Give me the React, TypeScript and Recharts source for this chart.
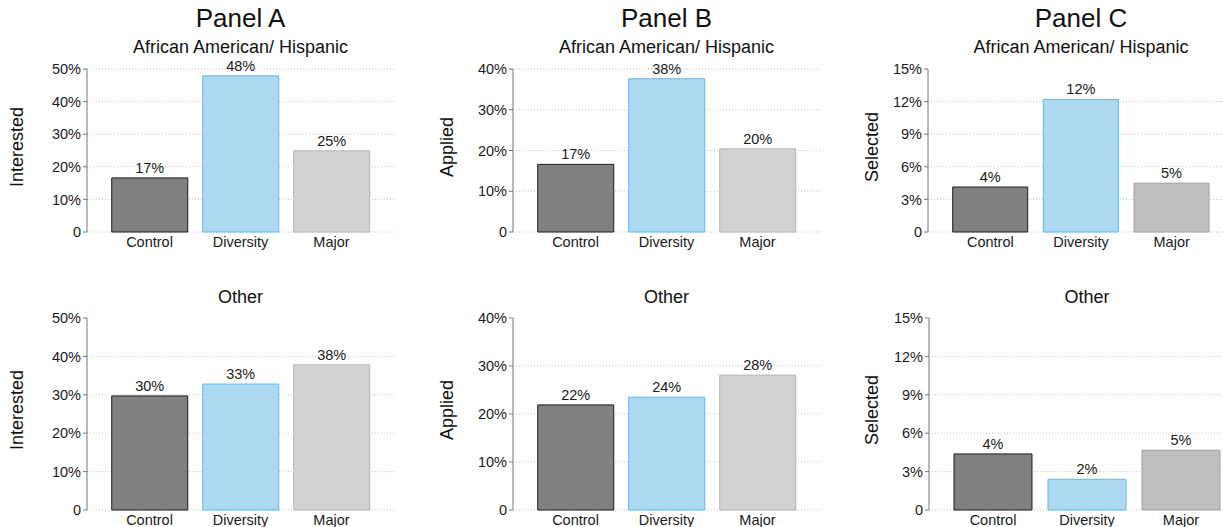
import React from 'react';
import { BarChart, Bar, XAxis, YAxis, CartesianGrid, Cell, LabelList } from 'recharts';

const categories = ['Control', 'Diversity', 'Major'];
const interestedAAH = [16.6, 47.9, 24.9];
const interestedOther = [29.7, 32.8, 37.8];
const appliedAAH = [16.6, 37.6, 20.4];
const appliedOther = [21.9, 23.5, 28.1];
const selectedAAH = [4.14, 12.2, 4.5];
const selectedOther = [4.38, 2.4, 4.67];

const ticksInterested = [0, 10, 20, 30, 40, 50];
const ticksApplied = [0, 10, 20, 30, 40];
const ticksSelected = [0, 3, 6, 9, 12, 15];

const panelTitles = ['Panel A', 'Panel B', 'Panel C'];
const groupTitles = ['African American/ Hispanic', 'Other'];

const FONT = '"Liberation Sans", Arial, Helvetica, sans-serif';
const Y_AXIS_W = 87;
const RIGHT_M = 6;
const X_AXIS_H = 30;

type PanelProps = {
  axisX: number;
  plotRight: number;
  plotTop: number;
  plotBottom: number;
  chartTop: number;
  values: number[];
  ticks: number[];
  gridValues: number[];
  yLabel: string;
  yLabelX: number;
  majorFill: string;
  majorStroke: string;
  title?: string;
  subtitle: string;
  subtitleY: number;
};

const fmtTick = (v: number) => (v === 0 ? '0' : `${v}%`);
const fmtLabel = (v: any) => `${Math.round(Number(v))}%`;

function Panel(p: PanelProps) {
  const left = p.axisX - Y_AXIS_W;
  const width = p.plotRight - left + RIGHT_M;
  const height = p.plotBottom - p.chartTop + X_AXIS_H;
  const data = categories.map((name, i) => ({ name, value: p.values[i] }));
  const fills = ['#808080', '#ADD8F2', p.majorFill];
  const strokes = ['#1c1c1c', '#62B8EC', p.majorStroke];
  const cx = (p.axisX + p.plotRight) / 2;
  return (
    <>
      {p.title && (
        <div style={{ position: 'absolute', left: cx, top: 18, transform: 'translate(-50%, -50%)', fontSize: 26, whiteSpace: 'nowrap', color: '#111' }}>
          {p.title}
        </div>
      )}
      <div style={{ position: 'absolute', left: cx, top: p.subtitleY, transform: 'translate(-50%, -50%)', fontSize: 18, whiteSpace: 'nowrap', color: '#111' }}>
        {p.subtitle}
      </div>
      <div style={{ position: 'absolute', left: p.yLabelX, top: (p.plotTop + p.plotBottom) / 2 - 4, transform: 'translate(-50%, -50%) rotate(-90deg)', fontSize: 18, whiteSpace: 'nowrap', color: '#111' }}>
        {p.yLabel}
      </div>
      <div style={{ position: 'absolute', left, top: p.chartTop }}>
        <BarChart
          width={width}
          height={height}
          data={data}
          margin={{ top: p.plotTop - p.chartTop, right: RIGHT_M, bottom: 0, left: 0 }}
          barCategoryGap="8.5%"
        >
          <CartesianGrid vertical={false} horizontalValues={p.gridValues} stroke="#c4c4c4" strokeDasharray="1 2" />
          <XAxis
            dataKey="name"
            axisLine={false}
            tickLine={false}
            tickSize={3}
            height={X_AXIS_H}
            interval={0}
            padding={{ left: 17, right: 17 }}
            tick={{ fontSize: 14.5, fill: '#1a1a1a', fontFamily: FONT }}
          />
          <YAxis
            width={Y_AXIS_W}
            ticks={p.ticks}
            domain={[0, p.ticks[p.ticks.length - 1]]}
            interval={0}
            tickFormatter={fmtTick}
            axisLine={{ stroke: '#777' }}
            tickLine={{ stroke: '#777' }}
            tickSize={4}
            tick={{ fontSize: 14.5, fill: '#1a1a1a', fontFamily: FONT }}
          />
          <Bar dataKey="value" isAnimationActive={false} strokeWidth={1}>
            {data.map((d, i) => (
              <Cell key={d.name} fill={fills[i]} stroke={strokes[i]} />
            ))}
            <LabelList dataKey="value" position="top" offset={5} formatter={fmtLabel} style={{ fontSize: 14.5, fill: '#1a1a1a', fontFamily: FONT }} />
          </Bar>
        </BarChart>
      </div>
    </>
  );
}

export default function App() {
  return (
    <div style={{ position: 'absolute', left: 0, top: 0, width: 1223, height: 527, overflow: 'hidden', background: '#fff', fontFamily: FONT }}>
      <Panel axisX={87} plotRight={394} plotTop={69} plotBottom={232} chartTop={0} values={interestedAAH} ticks={ticksInterested} gridValues={ticksInterested} yLabel="Interested" yLabelX={17} majorFill="#D2D2D2" majorStroke="#B4B4B4" title={panelTitles[0]} subtitle={groupTitles[0]} subtitleY={47} />
      <Panel axisX={513} plotRight={820} plotTop={69} plotBottom={232} chartTop={0} values={appliedAAH} ticks={ticksApplied} gridValues={ticksApplied} yLabel="Applied" yLabelX={447} majorFill="#D2D2D2" majorStroke="#B4B4B4" title={panelTitles[1]} subtitle={groupTitles[0]} subtitleY={47} />
      <Panel axisX={928} plotRight={1234} plotTop={69} plotBottom={232} chartTop={0} values={selectedAAH} ticks={ticksSelected} gridValues={[0, 3, 6, 9, 12]} yLabel="Selected" yLabelX={872} majorFill="#BEBEBE" majorStroke="#A0A0A0" title={panelTitles[2]} subtitle={groupTitles[0]} subtitleY={47} />
      <Panel axisX={87} plotRight={394} plotTop={318} plotBottom={510} chartTop={250} values={interestedOther} ticks={ticksInterested} gridValues={[0, 10, 20, 30, 40]} yLabel="Interested" yLabelX={17} majorFill="#D2D2D2" majorStroke="#B4B4B4" subtitle={groupTitles[1]} subtitleY={297} />
      <Panel axisX={513} plotRight={820} plotTop={318} plotBottom={510} chartTop={250} values={appliedOther} ticks={ticksApplied} gridValues={[0, 10, 20, 30]} yLabel="Applied" yLabelX={447} majorFill="#D2D2D2" majorStroke="#B4B4B4" subtitle={groupTitles[1]} subtitleY={297} />
      <Panel axisX={929} plotRight={1245} plotTop={318} plotBottom={510} chartTop={250} values={selectedOther} ticks={ticksSelected} gridValues={[0, 3, 6, 9, 12]} yLabel="Selected" yLabelX={872} majorFill="#BEBEBE" majorStroke="#A0A0A0" subtitle={groupTitles[1]} subtitleY={297} />
    </div>
  );
}
